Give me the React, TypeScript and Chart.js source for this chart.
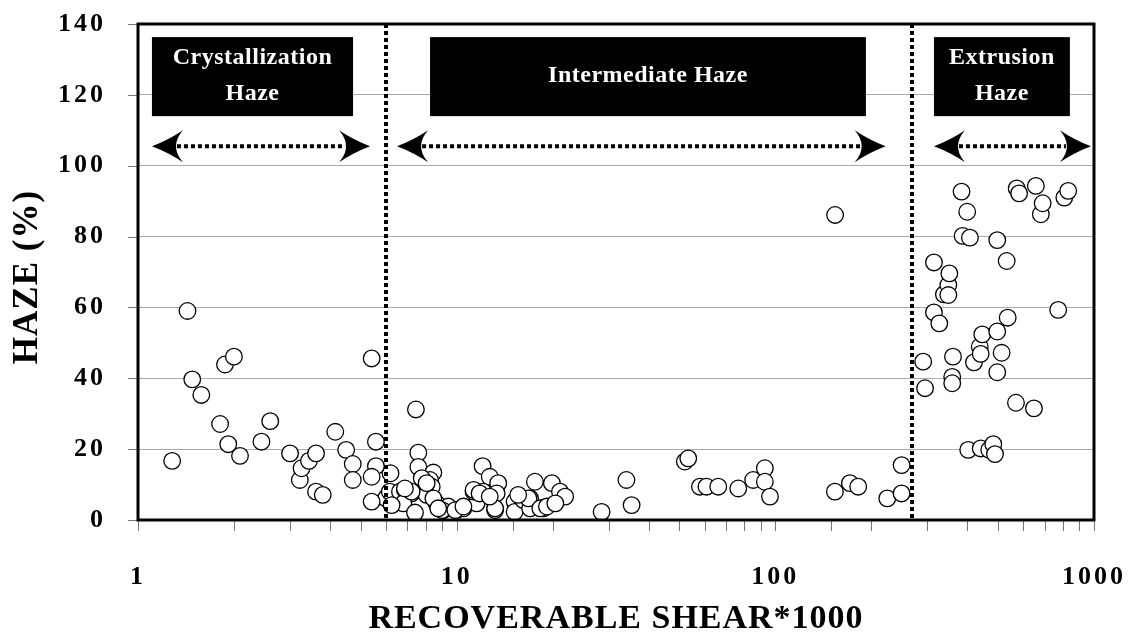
import React, { useEffect, useRef } from 'react';
import { Chart, registerables } from 'chart.js';

Chart.register(...registerables);

// ---------- data ----------
const crystShear = [1.28, 1.43, 1.48, 1.58, 1.81, 1.875, 2.0, 1.92, 2.09, 2.44, 2.6, 3.0, 3.22, 3.26, 3.44, 3.62, 3.62, 3.8, 4.16, 4.5, 4.72, 4.72, 5.41, 5.58, 5.58, 5.41, 5.41];
const crystHaze = [16.7, 59.0, 39.7, 35.3, 27.1, 43.9, 46.1, 21.4, 18.1, 22.1, 27.9, 18.8, 11.3, 14.6, 16.7, 18.8, 8.0, 7.1, 24.9, 19.8, 15.8, 11.3, 45.6, 22.1, 15.2, 12.2, 5.2];

const interShear = [6.2, 6.1, 6.3, 6.0, 6.4, 7.45, 7.58, 7.58, 8.45, 8.25, 7.77, 8.35, 6.17, 6.64, 6.88, 7.22, 8.05, 6.8, 7.4, 6.25, 8.65, 9.08, 9.41, 10.0, 10.5, 11.55, 11.3, 12.06, 12.7, 13.5, 13.35, 12.1, 13.2, 15.2, 15.2, 16.2, 17.0, 17.0, 17.6, 18.7, 19.9, 21.1, 21.9, 7.22, 6.88, 9.0, 9.9, 13.2, 16.8, 18.3, 19.2, 11.3, 11.8, 8.45, 8.05, 8.75, 10.5, 12.7, 15.6, 20.4, 28.5, 34.1, 35.4, 52.0, 53.3, 58.0, 60.8, 66.2, 76.5, 85.2, 92.7, 92.7, 96.2, 153.8, 154, 171.4, 182, 224.5, 249, 249];
const interHaze = [13.2, 7.0, 4.5, 6.1, 7.5, 31.2, 19.0, 15.0, 13.4, 11.3, 11.8, 9.4, 8.0, 8.0, 8.5, 7.5, 7.1, 4.7, 2.1, 4.2, 4.7, 2.8, 3.8, 2.8, 3.3, 4.7, 8.0, 15.2, 12.2, 10.4, 7.5, 8.0, 2.8, 5.2, 2.3, 5.6, 6.1, 3.3, 10.8, 3.3, 10.4, 8.0, 6.6, 8.0, 8.9, 2.8, 2.8, 3.3, 6.1, 3.3, 3.8, 8.5, 7.5, 6.1, 10.4, 3.3, 3.8, 6.6, 7.1, 4.7, 2.3, 11.3, 4.2, 16.5, 17.4, 9.4, 9.4, 9.4, 8.9, 11.3, 14.6, 10.8, 6.6, 8.0, 86.1, 10.4, 9.4, 6.1, 15.5, 7.5];

const extShear = [291, 295, 314.6, 314.6, 327, 338, 349, 349, 351.6, 359, 359, 361, 384, 387, 400, 403, 408, 420, 438, 441, 441, 446, 469, 483, 489, 497, 497, 497, 513, 532, 536, 569, 572, 582, 648, 657, 681, 690, 772, 807, 830];
const extHaze = [44.7, 37.2, 72.7, 58.6, 55.5, 63.7, 66.3, 63.5, 69.6, 40.4, 38.6, 46.1, 92.7, 80.2, 87.0, 19.8, 79.7, 44.5, 48.9, 46.9, 20.2, 52.4, 19.8, 21.4, 18.6, 79.0, 53.2, 41.7, 47.2, 73.1, 57.1, 33.1, 93.6, 92.2, 31.5, 94.3, 86.3, 89.4, 59.3, 91.0, 92.9];

const xTickLabels = [1, 10, 100, 1000];
const regionBoundaries = [6.0, 268];

const labelBoxes = [
  { lines: ['Crystallization', 'Haze'], from: 1.106, to: 4.73 },
  { lines: ['Intermediate Haze'], from: 8.25, to: 192.4 },
  { lines: ['Extrusion', 'Haze'], from: 314.6, to: 840 },
];
const boxTop = 136.3;
const boxBottom = 114.0;

const arrows = [
  { from: 1.106, to: 5.35 },
  { from: 6.5, to: 222 },
  { from: 314.6, to: 978 },
];
const arrowLevel = 105.5;

const FONT = '"Liberation Serif", "DejaVu Serif", "Times New Roman", serif';

function toPoints(xs: number[], ys: number[]) {
  return xs.map((x, i) => ({ x, y: ys[i] }));
}

function drawHead(ctx: CanvasRenderingContext2D, tx: number, y: number, d: number) {
  // d = +1 : pointing right, d = -1 : pointing left
  ctx.beginPath();
  ctx.moveTo(tx, y);
  ctx.quadraticCurveTo(tx - d * 17, y - 6.5, tx - d * 31, y - 16);
  ctx.quadraticCurveTo(tx - d * 24, y - 8, tx - d * 24, y);
  ctx.quadraticCurveTo(tx - d * 24, y + 8, tx - d * 31, y + 16);
  ctx.quadraticCurveTo(tx - d * 17, y + 6.5, tx, y);
  ctx.closePath();
  ctx.fill();
}

const overlay = {
  id: 'overlay',
  beforeDraw(chart: any) {
    const ctx = chart.ctx as CanvasRenderingContext2D;
    ctx.save();
    ctx.fillStyle = '#ffffff';
    ctx.fillRect(0, 0, chart.width, chart.height);
    ctx.restore();
    (ctx as any).letterSpacing = '3px';
  },
  afterDatasetsDraw(chart: any) {
    const ctx = chart.ctx as CanvasRenderingContext2D;
    const xs = chart.scales.x;
    const ys = chart.scales.y;
    const area = chart.chartArea;
    ctx.save();
    (ctx as any).letterSpacing = '0px';

    // tick marks
    ctx.lineWidth = 1;
    ctx.strokeStyle = '#777';
    xs.ticks.forEach((t: any) => {
      const px = Math.round(xs.getPixelForValue(t.value)) + 0.5;
      ctx.beginPath();
      ctx.moveTo(px, area.bottom);
      ctx.lineTo(px, area.bottom + 11);
      ctx.stroke();
    });
    ys.ticks.forEach((t: any) => {
      const py = Math.round(ys.getPixelForValue(t.value)) + 0.5;
      ctx.beginPath();
      ctx.moveTo(area.left - 10, py);
      ctx.lineTo(area.left, py);
      ctx.stroke();
    });

    // region boundaries
    ctx.strokeStyle = '#000';
    ctx.lineWidth = 4;
    ctx.setLineDash([4, 3]);
    regionBoundaries.forEach((v) => {
      const px = Math.round(xs.getPixelForValue(v));
      ctx.beginPath();
      ctx.moveTo(px, area.top);
      ctx.lineTo(px, area.bottom);
      ctx.stroke();
    });

    // arrows
    const ay = ys.getPixelForValue(arrowLevel);
    arrows.forEach((a) => {
      const x1 = xs.getPixelForValue(a.from);
      const x2 = xs.getPixelForValue(a.to);
      ctx.setLineDash([4, 3]);
      ctx.lineWidth = 4;
      ctx.beginPath();
      ctx.moveTo(x1 + 25, ay);
      ctx.lineTo(x2 - 25, ay);
      ctx.stroke();
      ctx.setLineDash([]);
      ctx.fillStyle = '#000';
      drawHead(ctx, x1, ay, -1);
      drawHead(ctx, x2, ay, 1);
    });
    ctx.setLineDash([]);

    // label boxes
    const by0 = ys.getPixelForValue(boxTop);
    const by1 = ys.getPixelForValue(boxBottom);
    labelBoxes.forEach((b) => {
      const bx0 = xs.getPixelForValue(b.from);
      const bx1 = xs.getPixelForValue(b.to);
      ctx.fillStyle = '#000';
      ctx.fillRect(bx0, by0, bx1 - bx0, by1 - by0);
      ctx.fillStyle = '#fff';
      ctx.font = `bold 24px ${FONT}`;
      (ctx as any).letterSpacing = '0.5px';
      ctx.textAlign = 'center';
      ctx.textBaseline = 'middle';
      const cx = (bx0 + bx1) / 2;
      const cy = (by0 + by1) / 2 - 1;
      const n = b.lines.length;
      b.lines.forEach((t, i) => {
        ctx.fillText(t, cx, cy + (i - (n - 1) / 2) * 36);
      });
    });
    (ctx as any).letterSpacing = '0px';

    // plot frame
    ctx.strokeStyle = '#000';
    ctx.lineWidth = 3;
    ctx.strokeRect(area.left, area.top, area.right - area.left, area.bottom - area.top);

    // axis titles
    ctx.fillStyle = '#000';
    ctx.textAlign = 'center';
    ctx.textBaseline = 'middle';
    ctx.font = `bold 34px ${FONT}`;
    (ctx as any).letterSpacing = '1px';
    ctx.fillText('RECOVERABLE SHEAR*1000', (area.left + area.right) / 2, 619);
    ctx.save();
    ctx.translate(28, 277);
    ctx.rotate(-Math.PI / 2);
    ctx.font = `bold 35px ${FONT}`;
    ctx.fillText('HAZE (%)', 0, 0);
    ctx.restore();
    ctx.restore();
  },
};

const pointStyle = {
  pointRadius: 8.3,
  pointHoverRadius: 8.3,
  pointBorderWidth: 1.3,
  pointBorderColor: '#000',
  pointBackgroundColor: '#fff',
  showLine: false,
};

export default function App() {
  const ref = useRef<HTMLCanvasElement | null>(null);
  useEffect(() => {
    if (!ref.current) return;
    const chart = new Chart(ref.current, {
      type: 'scatter',
      data: {
        datasets: [
          { label: 'Crystallization', data: toPoints(crystShear, crystHaze), ...pointStyle },
          { label: 'Intermediate', data: toPoints(interShear, interHaze), ...pointStyle },
          { label: 'Extrusion', data: toPoints(extShear, extHaze), ...pointStyle },
        ],
      } as any,
      options: {
        animation: false,
        responsive: true,
        maintainAspectRatio: false,
        layout: { padding: { left: 0, right: 35, top: 24, bottom: 0 } },
        plugins: { legend: { display: false }, tooltip: { enabled: false }, title: { display: false } },
        scales: {
          x: {
            type: 'logarithmic',
            min: 1,
            max: 1000,
            border: { display: false },
            grid: { drawOnChartArea: false, drawTicks: true, tickLength: 42, tickColor: 'rgba(0,0,0,0)', lineWidth: 1 },
            ticks: {
              autoSkip: false,
              maxRotation: 0,
              padding: 0,
              color: '#000',
              font: { family: FONT, size: 26, weight: 'bold' },
              callback: (v: any) => (xTickLabels.includes(Number(v)) ? String(v) : ''),
            },
            afterFit: (s: any) => { s.height = 113; },
          },
          y: {
            min: 0,
            max: 140,
            border: { display: false },
            grid: { color: '#aaaaaa', lineWidth: 1, tickLength: 32, tickColor: 'rgba(0,0,0,0)' },
            ticks: {
              stepSize: 20,
              padding: 0,
              color: '#000',
              font: { family: FONT, size: 26, weight: 'bold' },
            },
            afterFit: (s: any) => { s.width = 138; },
          },
        },
      } as any,
      plugins: [overlay],
    });
    return () => chart.destroy();
  }, []);
  return (
    <div style={{ position: 'absolute', left: 0, top: 0, width: 1129, height: 633, background: '#fff' }}>
      <canvas ref={ref} />
    </div>
  );
}
